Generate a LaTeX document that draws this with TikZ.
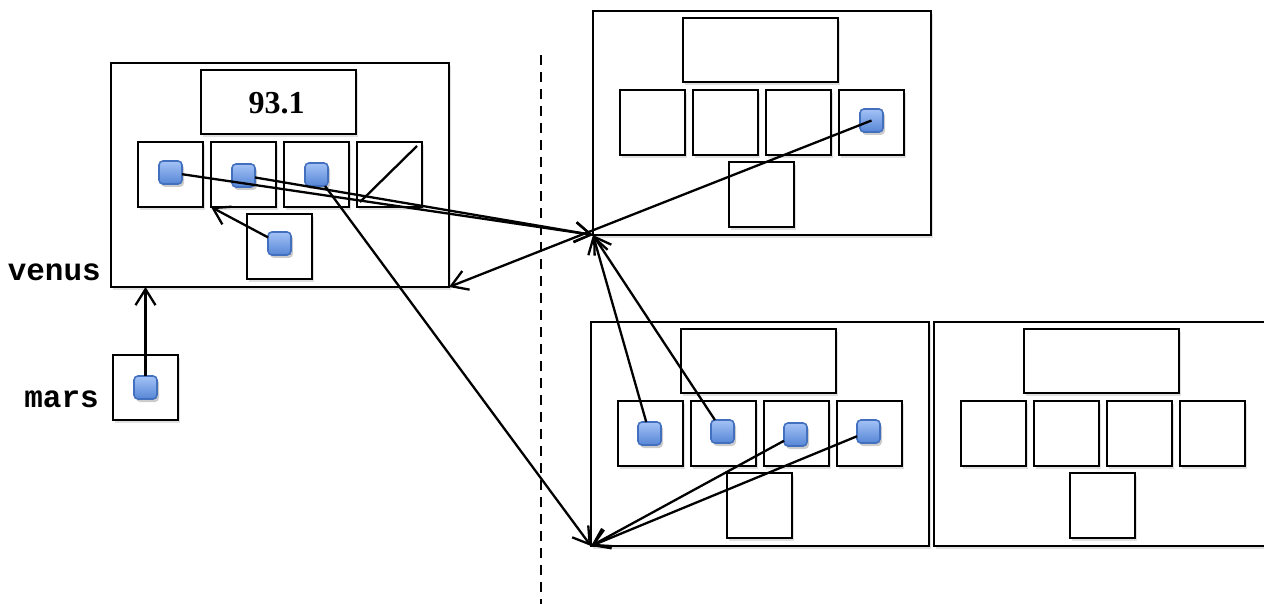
\documentclass[tikz,border=0pt]{standalone}
\usepackage{fontspec}
\setmainfont{Liberation Serif}
\newfontfamily\monob{Liberation Mono}
\usetikzlibrary{arrows.meta,shadows,calc}
\definecolor{bluetop}{HTML}{A4C2F6}
\definecolor{bluebot}{HTML}{5686D6}
\definecolor{blueedge}{HTML}{4270BE}
\tikzset{
  bx/.style={draw=black, line width=2.6pt, fill=white, inner sep=0pt, outer sep=0pt,
    drop shadow={shadow xshift=2pt, shadow yshift=-3pt, opacity=0.12, fill=black}},
  outerbox/.style={bx, minimum width=338pt, minimum height=224pt, anchor=north west},
  cellbox/.style={bx, minimum width=65pt, minimum height=65pt, anchor=north west},
  topbox/.style={bx, minimum width=155pt, minimum height=64pt, anchor=north west},
  ptr/.style={rounded corners=4pt, draw=blueedge, line width=1.6pt, top color=bluetop,
    bottom color=bluebot, minimum size=23pt, inner sep=0pt, outer sep=0pt,
    drop shadow={shadow xshift=2pt, shadow yshift=-3pt, opacity=0.2, fill=black}},
  link/.style={line width=2.3pt, -{Straight Barb[length=16pt,width=20pt,line width=2.3pt]}},
  plain/.style={line width=2.3pt},
  lbl/.style={font=\monob\bfseries\fontsize{31}{31}\selectfont, anchor=base east, inner sep=0pt},
}
\newcommand\mkstruct[3]{%
  \begin{scope}[shift={(#2,#3)}]
    \node[outerbox] (#1) at (0,0) {};
    \node[topbox] (#1t) at (90,7) {};
    \node[cellbox] (#1c1) at (27,79) {};
    \node[cellbox] (#1c2) at (100,79) {};
    \node[cellbox] (#1c3) at (173,79) {};
    \node[cellbox] (#1c4) at (246,79) {};
    \node[cellbox] (#1c5) at (136,151) {};
  \end{scope}}
\begin{document}
\begin{tikzpicture}[x=1pt,y=-1pt]
\useasboundingbox (0,0) rectangle (1264,604);
% dashed divider
\coordinate (dtop) at (541,55);
\coordinate (dbot) at (541,604);
\draw[line width=2.4pt, dash pattern=on 10pt off 7pt] (dtop) -- (dbot);
% structures
\mkstruct{v}{111}{63}
\mkstruct{tr}{593}{11}
\mkstruct{bl}{591}{322}
\mkstruct{br}{934}{322}
\node[cellbox] (m) at (113,355) {};
% value and null
\node[font=\bfseries\fontsize{32}{32}\selectfont, inner sep=0pt] (val) at ($(vt.center)+(-2,1)$) {93.1};
\draw[plain] ($(vc4.north east)+(-5,4)$) -- ($(vc4.south west)+(3,-5)$);
% labels
\node[lbl] (lv) at (101,280) {venus};
\node[lbl] (lm) at (99,407) {mars};
% pointers
\node[ptr] (vb1) at ($(vc1.center)+(0,-2)$) {};
\node[ptr] (vb2) at ($(vc2.center)+(0,1)$) {};
\node[ptr] (vb3) at ($(vc3.center)+(0,0)$) {};
\node[ptr] (vb5) at ($(vc5.center)+(0,-3)$) {};
\node[ptr] (mb) at (m.center) {};
\node[ptr] (trb4) at ($(trc4.center)+(0,-2)$) {};
\node[ptr] (blb1) at ($(blc1.center)+(-1,0)$) {};
\node[ptr] (blb2) at ($(blc2.center)+(-1,-2)$) {};
\node[ptr] (blb3) at ($(blc3.center)+(-1,1)$) {};
\node[ptr] (blb4) at ($(blc4.center)+(-1,-2)$) {};
% connectors
\draw[link] (vb1) -- (tr.south west);
\draw[link] (vb2) -- (tr.south west);
\draw[link] (vb3) -- (bl.south west);
\draw[link] (vb5) -- (vc2.south west);
\draw[link] (mb) -- (mb |- v.south);
\draw[link] (blb1) -- (tr.south west);
\draw[link] (blb2) -- (tr.south west);
\draw[link] (blb3) -- (bl.south west);
\draw[link] (blb4) -- (bl.south west);
\draw[link] (trb4.center) -- (v.south east);
\end{tikzpicture}
\end{document}
